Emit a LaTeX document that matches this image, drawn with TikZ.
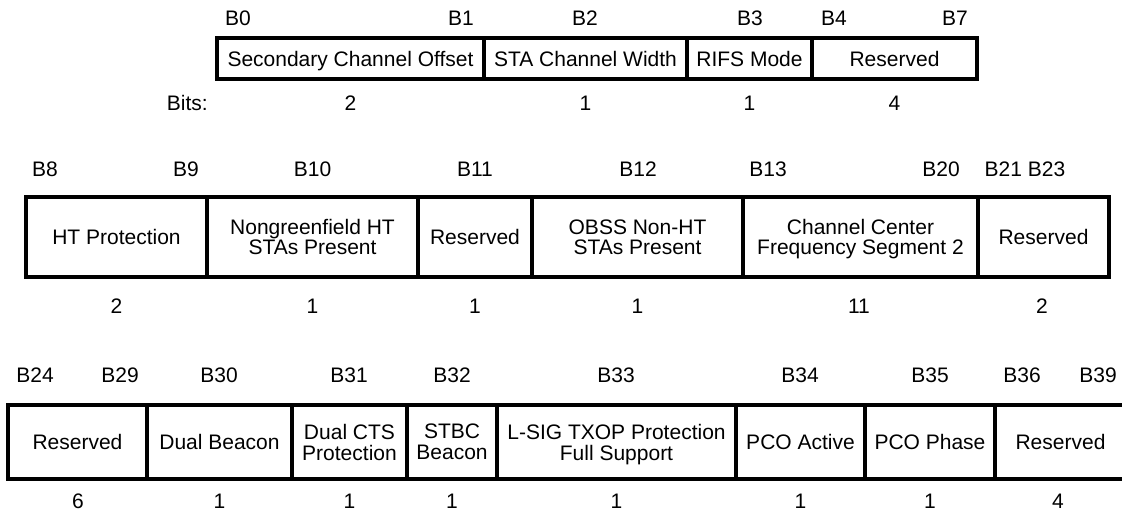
\documentclass[tikz,border=0pt]{standalone}
\usepackage{fontspec}
\setmainfont{Liberation Sans}
\begin{document}
\begin{tikzpicture}[x=1pt,y=-1pt,
  field/.style={draw=black, line width=3.5pt, inner sep=0pt, align=center, text depth=0pt},
  rowa/.style={field, minimum height=41pt, font=\fontsize{21}{18}\selectfont},
  rowb/.style={field, minimum height=80pt, font=\fontsize{21}{20}\selectfont},
  rowc/.style={field, minimum height=74pt, font=\fontsize{21}{21}\selectfont},
  lbl/.style={inner sep=0pt, font=\fontsize{21}{21}\selectfont}]
\useasboundingbox (0,0) rectangle (1122,515);
\clip (0,0) rectangle (1122,515);
% ---------- row 1
\node[rowa, minimum width=267pt] (f10) at (350.5,58.5) {Secondary Channel Offset};
\node[rowa, minimum width=203pt] (f11) at (585.5,58.5) {STA Channel Width};
\node[rowa, minimum width=125pt] (f12) at (749.5,58.5) {RIFS Mode};
\node[rowa, minimum width=165pt] (f13) at (894.5,58.5) {Reserved};
\node[lbl] (b0) at (238,18) {B0};
\node[lbl] (b1) at (461,18) {B1};
\node[lbl] (b2) at (585,18) {B2};
\node[lbl] (b3) at (750,18) {B3};
\node[lbl] (b4) at (834,18) {B4};
\node[lbl] (b7) at (955,18) {B7};
\node[lbl, anchor=east] (bits) at (208,103) {Bits:};
\node[lbl] (n10) at (350.5,103) {2};
\node[lbl] (n11) at (585.5,103) {1};
\node[lbl] (n12) at (749.5,103) {1};
\node[lbl] (n13) at (894.5,103) {4};
% ---------- row 2
\node[rowb, minimum width=181pt] (f20) at (116.5,237) {HT Protection};
\node[rowb, minimum width=211pt] (f21) at (312.5,237) {Nongreenfield HT\\STAs Present};
\node[rowb, minimum width=114pt] (f22) at (475,237) {Reserved};
\node[rowb, minimum width=211pt] (f23) at (637.5,237) {OBSS Non-HT\\STAs Present};
\node[rowb, minimum width=235pt] (f24) at (860.5,237) {Channel Center\\Frequency Segment 2};
\node[rowb, minimum width=131pt] (f25) at (1043.5,237) {Reserved};
\node[lbl] (b8) at (45,169) {B8};
\node[lbl] (b9) at (186,169) {B9};
\node[lbl] (b10) at (312.5,169) {B10};
\node[lbl] (b11) at (475,169) {B11};
\node[lbl] (b12) at (638,169) {B12};
\node[lbl] (b13) at (768,169) {B13};
\node[lbl] (b20) at (941,169) {B20};
\node[lbl] (b21) at (1025,169) {B21 B23};
\node[lbl] (n20) at (116.5,306) {2};
\node[lbl] (n21) at (312.5,306) {1};
\node[lbl] (n22) at (475,306) {1};
\node[lbl] (n23) at (637.5,306) {1};
\node[lbl] (n24) at (859,306) {11};
\node[lbl] (n25) at (1042,306) {2};
% ---------- row 3
\node[rowc, minimum width=139pt] (f30) at (77.5,442) {Reserved};
\node[rowc, minimum width=145pt] (f31) at (219.5,442) {Dual Beacon};
\node[rowc, minimum width=115pt] (f32) at (349.5,442) {Dual CTS\\Protection};
\node[rowc, minimum width=90pt] (f33) at (452,442) {STBC\\Beacon};
\node[rowc, minimum width=239pt] (f34) at (616.5,442) {L-SIG TXOP Protection\\Full Support};
\node[rowc, minimum width=129pt] (f35) at (800.5,442) {PCO Active};
\node[rowc, minimum width=130pt] (f36) at (930,442) {PCO Phase};
\node[rowc, minimum width=131pt] (f37) at (1060.5,442) {Reserved};
\node[lbl] (b24) at (35,375) {B24};
\node[lbl] (b29) at (120,375) {B29};
\node[lbl] (b30) at (219,375) {B30};
\node[lbl] (b31) at (349,375) {B31};
\node[lbl] (b32) at (452,375) {B32};
\node[lbl] (b33) at (616,375) {B33};
\node[lbl] (b34) at (800,375) {B34};
\node[lbl] (b35) at (930,375) {B35};
\node[lbl] (b36) at (1022,375) {B36};
\node[lbl] (b39) at (1098,375) {B39};
\node[lbl] (n30) at (78,501) {6};
\node[lbl] (n31) at (219.5,501) {1};
\node[lbl] (n32) at (349.5,501) {1};
\node[lbl] (n33) at (452,501) {1};
\node[lbl] (n34) at (616.5,501) {1};
\node[lbl] (n35) at (800.5,501) {1};
\node[lbl] (n36) at (930,501) {1};
\node[lbl] (n37) at (1058,501) {4};
\end{tikzpicture}
\end{document}
